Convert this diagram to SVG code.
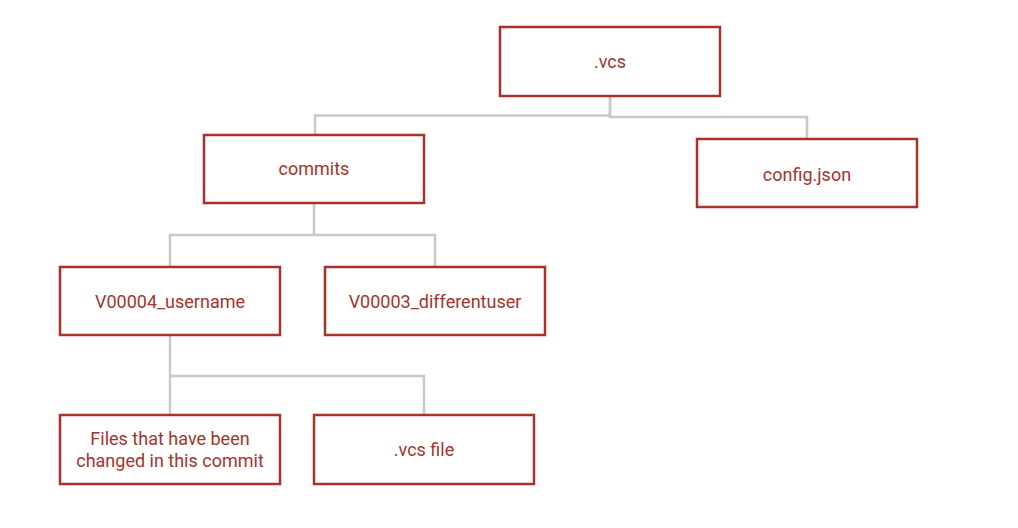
<svg xmlns="http://www.w3.org/2000/svg" width="1018" height="528" viewBox="0 0 1018 528">
<style>
.box{fill:#ffffff;stroke:#a8322b;stroke-width:2.5}
.lbl{font-family:Roboto,"Liberation Sans",sans-serif;font-size:18px;fill:#a8322b;text-anchor:middle}
.con{fill:none;stroke:#c8c8c8;stroke-width:2.5}
</style>
<rect width="1018" height="528" fill="#ffffff"/>
<g id="connectors">
<path class="con" d="M610 96 V115.5 H315 V135"/>
<path class="con" d="M610 96 V117 H807 V139"/>
<path class="con" d="M314 203 V235 H170 V267"/>
<path class="con" d="M314 235 H435 V267"/>
<path class="con" d="M170 335 V415"/>
<path class="con" d="M170 376 H424 V415"/>
</g>
<g id="vcs"><rect class="box" x="500" y="27" width="220" height="69"/><text class="lbl" x="610" y="68">.vcs</text></g>
<g id="commits"><rect class="box" x="204" y="135" width="220" height="68"/><text class="lbl" x="314" y="175">commits</text></g>
<g id="config"><rect class="box" x="697" y="139" width="220" height="68"/><text class="lbl" x="807" y="180.5">config.json</text></g>
<g id="v00004"><rect class="box" x="60" y="267" width="220" height="68"/><text class="lbl" x="170" y="307.5">V00004_username</text></g>
<g id="v00003"><rect class="box" x="325" y="267" width="220" height="68"/><text class="lbl" x="435" y="307.5">V00003_differentuser</text></g>
<g id="files"><rect class="box" x="60" y="415" width="220" height="69"/><text class="lbl" x="170" y="444.5">Files that have been</text><text class="lbl" x="170" y="466.5">changed in this commit</text></g>
<g id="vcsfile"><rect class="box" x="314" y="415" width="220" height="69"/><text class="lbl" x="424" y="455.5">.vcs file</text></g>
</svg>
